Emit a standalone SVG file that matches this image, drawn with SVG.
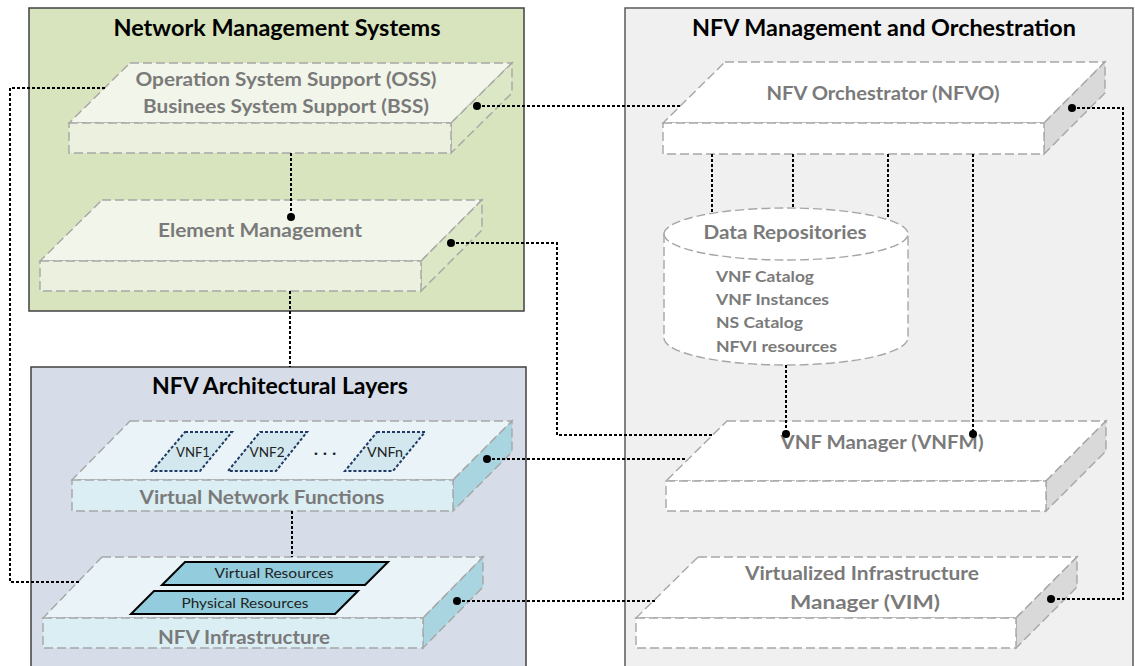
<svg xmlns="http://www.w3.org/2000/svg" width="1135" height="666" viewBox="0 0 1135 666">
<style>
.title{font-family:Lato,"Liberation Sans",sans-serif;font-weight:bold;font-size:22px;fill:#000;text-anchor:middle}
.lbl{font-family:Lato,"Liberation Sans",sans-serif;font-weight:bold;font-size:19px;fill:#7a7a7a;text-anchor:middle}
.item{font-family:Lato,"Liberation Sans",sans-serif;font-weight:bold;font-size:16px;fill:#7a7a7a}
.small{font-family:Lato,"Liberation Sans",sans-serif;font-size:14px;fill:#222;text-anchor:middle}
.slab{stroke:#a6a6a6;stroke-width:1.4;stroke-dasharray:9 4}
.conn{fill:none;stroke:#000;stroke-width:2;stroke-dasharray:3 2}
.dot{fill:#000}
.vnf{fill:#d3e7ee;stroke:#1f3864;stroke-width:2;stroke-dasharray:3 2}
.res{fill:#93cddd;stroke:#000;stroke-width:2}
</style>
<rect width="1135" height="666" fill="#fff"/>

<g id="nms">
<rect x="29" y="8" width="495" height="303" fill="#d7e4bd" stroke="#404040" stroke-width="1.5"/>
<text class="title" x="277" y="36" textLength="327" lengthAdjust="spacingAndGlyphs">Network Management Systems</text>
</g>
<g id="mano">
<rect x="625" y="8" width="508" height="670" fill="#f0f0f0" stroke="#595959" stroke-width="1.5"/>
<text class="title" x="884" y="36" textLength="384" lengthAdjust="spacingAndGlyphs">NFV Management and Orchestration</text>
</g>
<g id="layers">
<rect x="31" y="367" width="495" height="310" fill="#d6dde8" stroke="#404040" stroke-width="1.5"/>
<text class="title" x="280" y="394" textLength="256" lengthAdjust="spacingAndGlyphs">NFV Architectural Layers</text>
</g>

<g id="oss">
<polygon class="slab" points="130,63 512,63 451,123 69,123" fill="#f2f6ea"/>
<polygon class="slab" points="451,123 512,63 512,93 451,153" fill="#dce7c6"/>
<rect class="slab" x="69" y="123" width="382" height="30" fill="#ebf1de"/>
<text class="lbl" x="286" y="86" textLength="301" lengthAdjust="spacingAndGlyphs">Operation System Support (OSS)</text>
<text class="lbl" x="286" y="113" textLength="286" lengthAdjust="spacingAndGlyphs">Businees System Support (BSS)</text>
</g>
<g id="em">
<polygon class="slab" points="102,200 482,200 421,261 40,261" fill="#f2f6ea"/>
<polygon class="slab" points="421,261 482,200 482,230 421,291" fill="#dce7c6"/>
<rect class="slab" x="40" y="261" width="381" height="30" fill="#ebf1de"/>
<text class="lbl" x="260" y="237" textLength="204" lengthAdjust="spacingAndGlyphs">Element Management</text>
</g>

<g id="vnfs">
<polygon class="slab" points="130,421 512,421 453,480 72,480" fill="#eaf3f7"/>
<polygon class="slab" points="453,480 512,421 512,452 453,511" fill="#a9d5e0"/>
<rect class="slab" x="72" y="480" width="381" height="31" fill="#dbeef4"/>
<text class="lbl" x="262" y="504" textLength="245" lengthAdjust="spacingAndGlyphs">Virtual Network Functions</text>
<polygon class="vnf" points="185,432 232,432 200,471 152,471"/>
<text class="small" x="193" y="457" font-size="15" textLength="34" lengthAdjust="spacingAndGlyphs">VNF1</text>
<polygon class="vnf" points="260,432 307,432 276,471 228,471"/>
<text class="small" x="267" y="457" font-size="15" textLength="35" lengthAdjust="spacingAndGlyphs">VNF2</text>
<text class="small" x="325" y="458" font-size="30" font-weight="bold" textLength="22" lengthAdjust="spacing">···</text>
<polygon class="vnf" points="377,432 425,432 393,471 345,471"/>
<text class="small" x="385" y="457" font-size="15" textLength="36" lengthAdjust="spacingAndGlyphs">VNFn</text>
</g>
<g id="nfvi">
<polygon class="slab" points="102,557 483,557 423,618 43,618" fill="#eaf3f7"/>
<polygon class="slab" points="423,618 483,557 483,587 423,648" fill="#a9d5e0"/>
<rect class="slab" x="43" y="618" width="380" height="30" fill="#dbeef4"/>
<text class="lbl" x="244" y="644" textLength="172" lengthAdjust="spacingAndGlyphs">NFV Infrastructure</text>
<polygon class="res" points="185,562 388,562 365,585 162,585"/>
<text class="small" x="274" y="578" font-size="15" textLength="119" lengthAdjust="spacingAndGlyphs">Virtual Resources</text>
<polygon class="res" points="154,591 358,591 335,614 131,614"/>
<text class="small" x="245" y="608" font-size="15" textLength="127" lengthAdjust="spacingAndGlyphs">Physical Resources</text>
</g>

<g id="nfvo">
<polygon class="slab" points="725,62 1105,62 1044,123 663,123" fill="#fff"/>
<polygon class="slab" points="1044,123 1105,62 1105,93 1044,154" fill="#d9d9d9"/>
<rect class="slab" x="663" y="123" width="381" height="31" fill="#fff"/>
<text class="lbl" x="883" y="100" textLength="233" lengthAdjust="spacingAndGlyphs">NFV Orchestrator (NFVO)</text>
</g>
<g id="repo">
<path class="slab" d="M664,234 L664,338 A122,27 0 0 0 908,338 L908,234 A122,26 0 0 0 664,234 Z" fill="#fff"/>
<path class="slab" d="M664,234 A122,26 0 0 0 908,234" fill="none"/>
<text class="lbl" x="785" y="239" textLength="163" lengthAdjust="spacingAndGlyphs">Data Repositories</text>
<text class="item" x="716" y="282" textLength="98" lengthAdjust="spacingAndGlyphs">VNF Catalog</text>
<text class="item" x="716" y="305" textLength="113" lengthAdjust="spacingAndGlyphs">VNF Instances</text>
<text class="item" x="716" y="328" textLength="87" lengthAdjust="spacingAndGlyphs">NS Catalog</text>
<text class="item" x="716" y="352" textLength="121" lengthAdjust="spacingAndGlyphs">NFVI resources</text>
</g>
<g id="vnfm">
<polygon class="slab" points="727,421 1106,421 1046,481 666,481" fill="#fff"/>
<polygon class="slab" points="1046,481 1106,421 1106,451 1046,511" fill="#d9d9d9"/>
<rect class="slab" x="666" y="481" width="380" height="30" fill="#fff"/>
<text class="lbl" x="882" y="449" textLength="203" lengthAdjust="spacingAndGlyphs">VNF Manager (VNFM)</text>
</g>
<g id="vim">
<polygon class="slab" points="698,557 1077,557 1016,618 636,618" fill="#fff"/>
<polygon class="slab" points="1016,618 1077,557 1077,587 1016,648" fill="#d9d9d9"/>
<rect class="slab" x="636" y="618" width="380" height="30" fill="#fff"/>
<text class="lbl" x="862" y="580" textLength="234" lengthAdjust="spacingAndGlyphs">Virtualized Infrastructure</text>
<text class="lbl" x="865" y="609" textLength="150" lengthAdjust="spacingAndGlyphs">Manager (VIM)</text>
</g>

<g id="connectors">
<polyline class="conn" points="477,106 682,106"/>
<polyline class="conn" points="291,153 291,217"/>
<polyline class="conn" points="290,291 290,367"/>
<polyline class="conn" points="451,243 557,243 557,435 713,435"/>
<polyline class="conn" points="105,88 10,88 10,582 80,582"/>
<polyline class="conn" points="712,154 712,213"/>
<polyline class="conn" points="793,154 793,208"/>
<polyline class="conn" points="888,154 888,219"/>
<polyline class="conn" points="973,154 973,434"/>
<polyline class="conn" points="786,365 786,434"/>
<polyline class="conn" points="1072,108 1123,108 1123,599 1051,599"/>
<polyline class="conn" points="487,459 685,459"/>
<polyline class="conn" points="292,511 292,557"/>
<polyline class="conn" points="457,601 655,601"/>
<circle class="dot" cx="477" cy="106" r="4"/>
<circle class="dot" cx="291" cy="217" r="4"/>
<circle class="dot" cx="451" cy="243" r="4"/>
<circle class="dot" cx="973" cy="434" r="4"/>
<circle class="dot" cx="786" cy="434" r="4"/>
<circle class="dot" cx="1072" cy="108" r="4"/>
<circle class="dot" cx="1051" cy="599" r="4"/>
<circle class="dot" cx="487" cy="459" r="4"/>
<circle class="dot" cx="457" cy="601" r="4"/>
</g>
</svg>
